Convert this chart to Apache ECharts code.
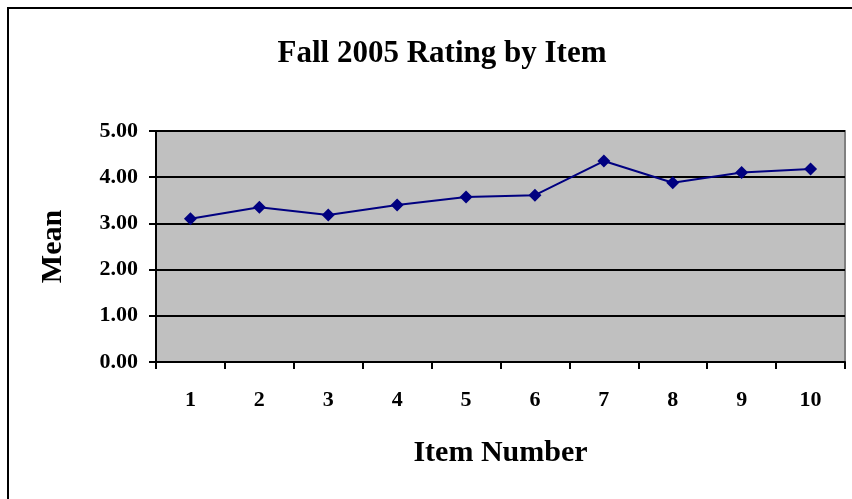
<!DOCTYPE html>
<html>
<head>
<meta charset="utf-8">
<script src="https://cdn.jsdelivr.net/npm/echarts@6/dist/echarts.min.js"></script>
<style>html,body{margin:0;padding:0;background:#fff;}#c{width:852px;height:499px;}</style>
</head>
<body>
<div id="c"></div>
<script>
const categories = ['1','2','3','4','5','6','7','8','9','10'];
const meanValues = [3.10, 3.35, 3.18, 3.40, 3.57, 3.61, 4.35, 3.88, 4.10, 4.18];
const yTicks = [0, 1, 2, 3, 4, 5];

const chart = echarts.init(document.getElementById('c'), null, {renderer: 'canvas'});
const font = '"Liberation Serif", "DejaVu Serif", serif';
chart.setOption({
  animation: false,
  backgroundColor: '#fff',
  title: {
    text: 'Fall 2005 Rating by Item',
    left: 437, top: 33, textAlign: 'center',
    textStyle: {fontFamily: font, fontWeight: 'bold', fontSize: 31, color: '#000'}
  },
  graphic: [
    {type: 'rect', shape: {x: 8, y: 8, width: 1000, height: 800}, style: {fill: null, stroke: '#000', lineWidth: 2}, z: 100}
  ],
  grid: {left: 156, right: 7, top: 131, bottom: 137, show: true, backgroundColor: '#C0C0C0', borderColor: '#808080', borderWidth: 2},
  xAxis: {
    type: 'category', data: categories, boundaryGap: true,
    name: 'Item Number', nameLocation: 'middle', nameGap: 76,
    nameTextStyle: {fontFamily: font, fontWeight: 'bold', fontSize: 30, color: '#000'},
    axisLine: {lineStyle: {color: '#000', width: 2}},
    axisTick: {show: true, alignWithLabel: false, length: 7, lineStyle: {color: '#000', width: 2}},
    axisLabel: {fontFamily: font, fontWeight: 'bold', fontSize: 22, color: '#000', margin: 27}
  },
  yAxis: {
    type: 'value', min: 0, max: 5, interval: 1,
    name: 'Mean', nameLocation: 'middle', nameGap: 88, nameRotate: 90,
    nameTextStyle: {fontFamily: font, fontWeight: 'bold', fontSize: 30, color: '#000'},
    axisLine: {show: true, lineStyle: {color: '#000', width: 2}},
    axisTick: {show: true, length: 7, lineStyle: {color: '#000', width: 2}},
    splitLine: {show: true, lineStyle: {color: '#000', width: 2}},
    axisLabel: {fontFamily: font, fontWeight: 'bold', fontSize: 22, color: '#000', margin: 18,
      formatter: v => yTicks.includes(v) ? v.toFixed(2) : ''}
  },
  series: [{
    type: 'line', data: meanValues,
    symbol: 'diamond', symbolSize: 13,
    lineStyle: {color: '#000080', width: 2},
    itemStyle: {color: '#000080'}
  }]
});
</script>
</body>
</html>
